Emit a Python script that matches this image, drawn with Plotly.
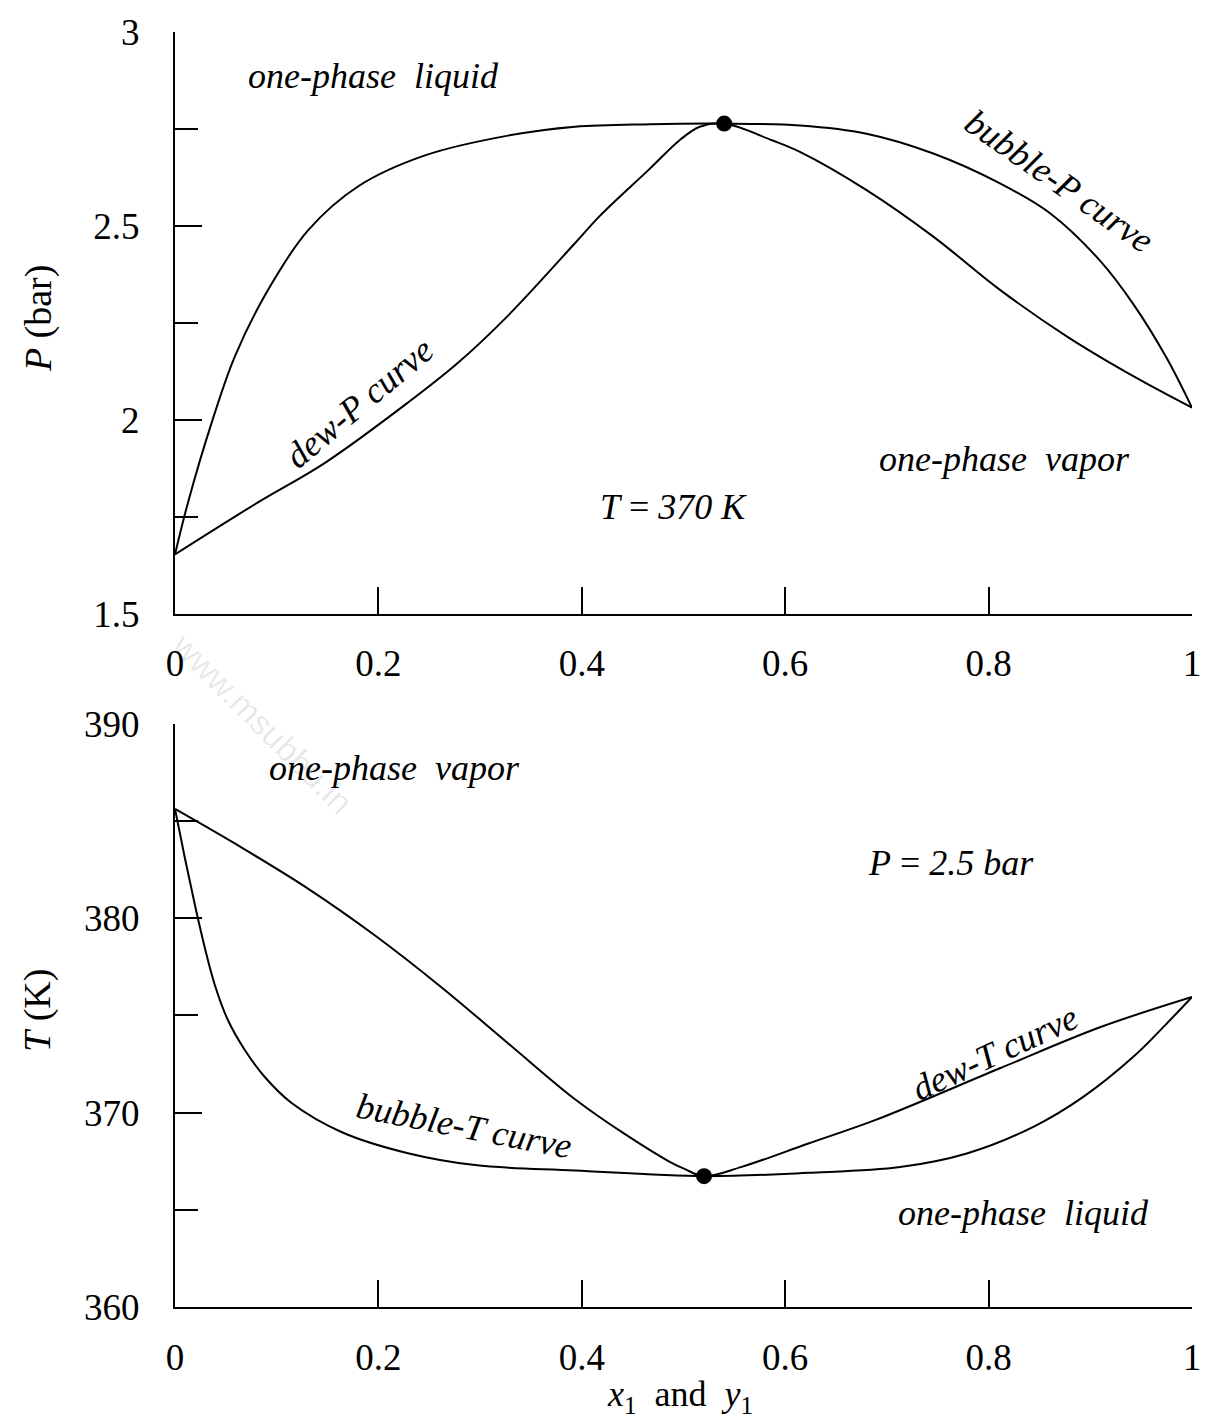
import plotly.graph_objects as go

# ---------------- data ----------------
# Top panel: P-x-y at T = 370 K
bubble_P_x = [0, 0.0128, 0.0360, 0.0590, 0.0914, 0.1308, 0.1799, 0.2458, 0.3274, 0.3933,
              0.4671, 0.540, 0.6145, 0.680, 0.7456, 0.8112, 0.8604, 0.9095, 0.9423, 0.9751, 1.0]
bubble_P = [1.654, 1.788, 1.993, 2.165, 2.335, 2.489, 2.602, 2.682, 2.733, 2.756,
            2.7625, 2.764, 2.759, 2.738, 2.687, 2.610, 2.533, 2.411, 2.299, 2.160, 2.032]

dew_P_y = [0, 0.0816, 0.1475, 0.229, 0.278, 0.327, 0.393, 0.418, 0.467, 0.497, 0.516,
           0.540, 0.587, 0.6145, 0.680, 0.7456, 0.8112, 0.8768, 0.9423, 1.0]
dew_P = [1.654, 1.788, 1.890, 2.045, 2.147, 2.268, 2.455, 2.527, 2.648, 2.723, 2.756,
         2.764, 2.721, 2.691, 2.5925, 2.4728, 2.3356, 2.2159, 2.1132, 2.032]

azeo_P_x = [0.54]
azeo_P = [2.764]

# Bottom panel: T-x-y at P = 2.5 bar
bubble_T_x = [0, 0.0098, 0.0197, 0.0295, 0.0393, 0.0521, 0.0688, 0.0885, 0.1150, 0.1642,
              0.2291, 0.2950, 0.3933, 0.5202, 0.6224, 0.7129, 0.7785, 0.8440, 0.8931,
              0.9423, 0.9751, 1.0]
bubble_T = [385.62, 383.07, 380.65, 378.44, 376.54, 374.75, 373.21, 371.82, 370.48, 368.99,
            367.91, 367.30, 367.02, 366.73, 366.9, 367.2, 367.9, 369.27, 370.81,
            372.87, 374.58, 375.95]

dew_T_y = [0, 0.0656, 0.1311, 0.1967, 0.2622, 0.3277, 0.3933, 0.4425, 0.4851, 0.5015, 0.5202,
           0.5572, 0.6227, 0.6883, 0.8112, 0.9095, 1.0]
dew_T = [385.62, 383.63, 381.51, 379.11, 376.44, 373.56, 370.69, 368.89, 367.51, 367.09, 366.73,
         367.21, 368.41, 369.61, 372.28, 374.39, 375.95]

azeo_T_x = [0.5202]
azeo_T = [366.73]

x_ticks = [0, 0.2, 0.4, 0.6, 0.8, 1]
x_ticklabels = ["0", "0.2", "0.4", "0.6", "0.8", "1"]
P_ticks = [1.5, 2, 2.5, 3]
P_ticklabels = ["1.5", "2", "2.5", "3"]
T_ticks = [360, 370, 380, 390]
T_ticklabels = ["360", "370", "380", "390"]

# ---------------- figure ----------------
SERIF = "Liberation Serif"
curve = dict(color="black", width=2, shape="spline", smoothing=1.0)

fig = go.Figure()
fig.add_trace(go.Scatter(x=bubble_P_x, y=bubble_P, mode="lines", line=curve,
                         xaxis="x", yaxis="y", name="bubble-P"))
fig.add_trace(go.Scatter(x=dew_P_y, y=dew_P, mode="lines", line=curve,
                         xaxis="x", yaxis="y", name="dew-P"))
fig.add_trace(go.Scatter(x=azeo_P_x, y=azeo_P, mode="markers", marker=dict(color="black", size=16),
                         xaxis="x", yaxis="y", cliponaxis=False, name="azeotrope"))

fig.add_trace(go.Scatter(x=bubble_T_x, y=bubble_T, mode="lines", line=curve,
                         xaxis="x2", yaxis="y2", name="bubble-T"))
fig.add_trace(go.Scatter(x=dew_T_y, y=dew_T, mode="lines", line=curve,
                         xaxis="x2", yaxis="y2", name="dew-T"))
fig.add_trace(go.Scatter(x=azeo_T_x, y=azeo_T, mode="markers", marker=dict(color="black", size=16),
                         xaxis="x2", yaxis="y2", cliponaxis=False, name="azeotrope"))

tickfont = dict(family=SERIF, size=37, color="black")

def xax(anchor, standoff):
    return dict(range=[0, 1], tickvals=x_ticks, ticktext=x_ticklabels, ticks="inside", ticklen=27,
                tickwidth=2, tickcolor="black", showline=True, linecolor="black", linewidth=2,
                showgrid=False, zeroline=False, tickfont=tickfont, ticklabelstandoff=standoff,
                anchor=anchor, domain=[0, 1])

def yax(domain, rng, vals, text, minor_dtick, anchor):
    return dict(domain=domain, range=rng, tickvals=vals, ticktext=text,
                ticks="inside", ticklen=27, tickwidth=2, tickcolor="black",
                minor=dict(dtick=minor_dtick, tick0=rng[0], ticks="inside", ticklen=23, tickwidth=2,
                           tickcolor="black", showgrid=False),
                showline=True, linecolor="black", linewidth=2, showgrid=False, zeroline=False,
                tickfont=tickfont, ticklabelstandoff=26, anchor=anchor)

fig.update_layout(
    width=1216, height=1420,
    margin=dict(l=175, r=24, t=28, b=113),
    paper_bgcolor="white", plot_bgcolor="white",
    showlegend=False,
    xaxis=xax("y", 15),
    xaxis2=xax("y2", 17),
    yaxis=yax([0.5434, 1], [1.5, 3], P_ticks, P_ticklabels, 0.25, "x"),
    yaxis2=yax([0, 0.4574], [360, 390], T_ticks, T_ticklabels, 5, "x2"),
)

afont = dict(family=SERIF, size=36, color="black")
NB = "\u00a0"

def note(x, y, text, ax="x", ay="y", angle=0, font=afont):
    return dict(x=x, y=y, xref=ax, yref=ay, text=text, showarrow=False, font=font,
                textangle=angle, xanchor="center", yanchor="middle")

annotations = [
    # top panel
    note(0.195, 2.887, f"<i>one-phase{NB} liquid</i>"),
    note(0.869, 2.615, "<i>bubble-P curve</i>", angle=35),
    note(0.181, 2.045, "<i>dew-P curve</i>", angle=-40),
    note(0.816, 1.900, f"<i>one-phase{NB} vapor</i>"),
    note(0.490, 1.775, "<i>T</i> = <i>370 K</i>"),
    # bottom panel
    note(0.216, 387.74, f"<i>one-phase{NB} vapor</i>", "x2", "y2"),
    note(0.763, 382.86, "<i>P</i> = <i>2.5 bar</i>", "x2", "y2"),
    note(0.806, 373.05, "<i>dew-T curve</i>", "x2", "y2", angle=-25),
    note(0.284, 369.3, "<i>bubble-T curve</i>", "x2", "y2", angle=11),
    note(0.834, 364.83, f"<i>one-phase{NB} liquid</i>", "x2", "y2"),
    # axis titles
    note(-0.1347, 0.7756, "<i>P</i> (bar)", "paper", "paper", angle=-90,
         font=dict(family=SERIF, size=38, color="black")),
    note(-0.1347, 0.2322, "<i>T</i> (K)", "paper", "paper", angle=-90,
         font=dict(family=SERIF, size=38, color="black")),
    note(0.4966, -0.0700, f"<i>x</i><sub>1</sub>{NB} and {NB}<i>y</i><sub>1</sub>", "paper", "paper"),
    # faint watermark
    note(0.0856, 0.458, "www.msubbu.in", "paper", "paper", angle=45,
         font=dict(family="Liberation Sans", size=34, color="rgba(0,0,0,0.09)")),
]
fig.update_layout(annotations=annotations)

fig.write_html("out.html")
